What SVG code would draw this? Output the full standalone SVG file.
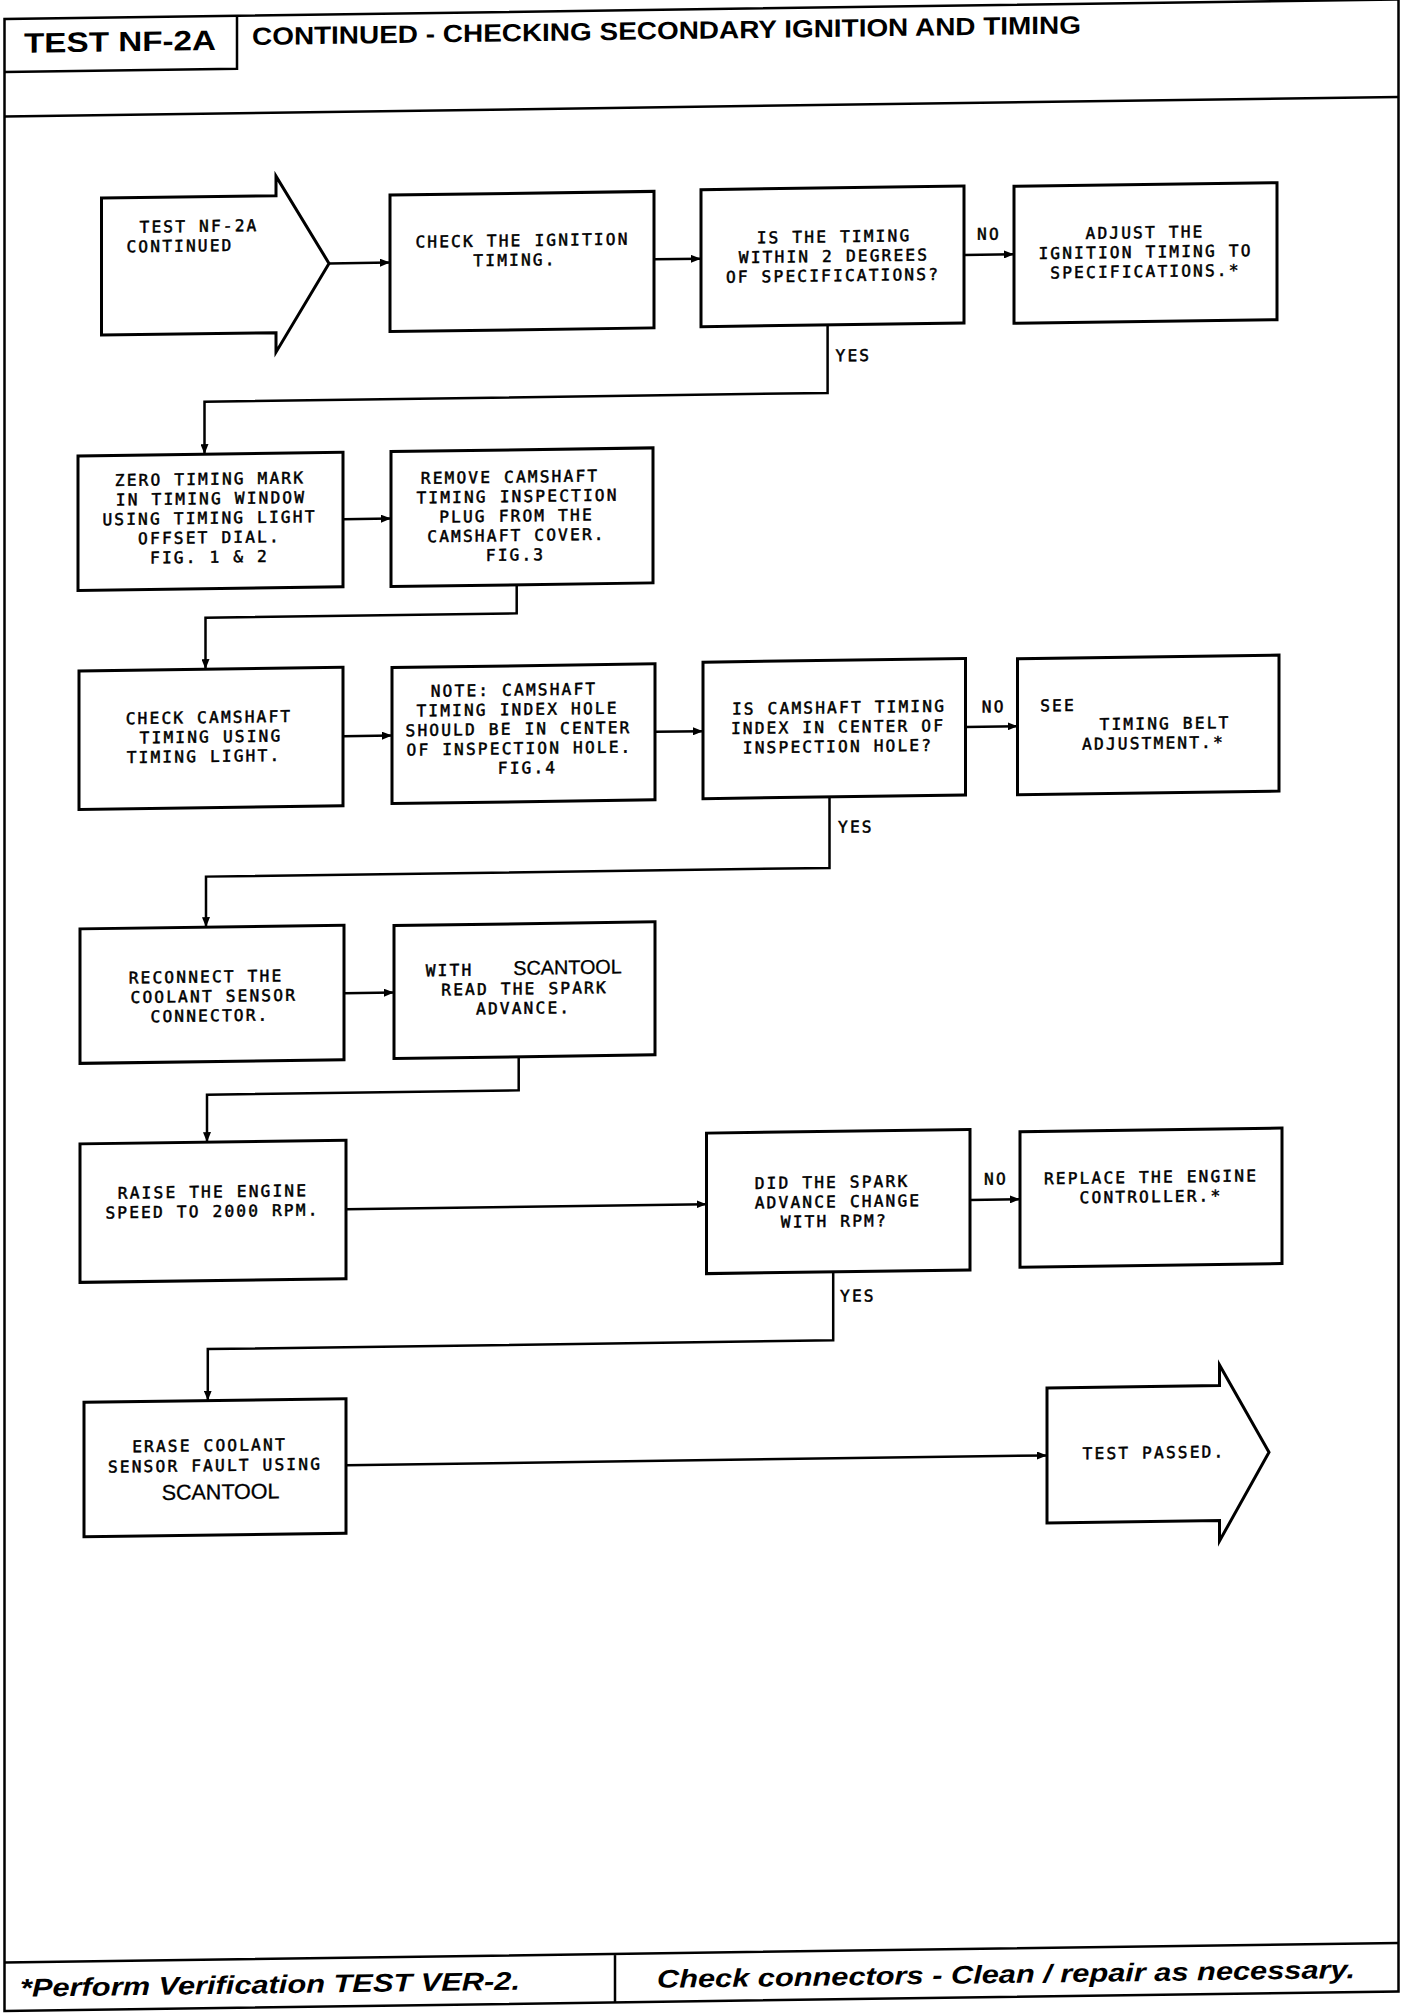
<svg xmlns="http://www.w3.org/2000/svg" width="1408" height="2016" viewBox="0 0 1408 2016">
<style>
.box{fill:none;stroke:#000;stroke-width:3}
.arw{fill:#fff;stroke:#000;stroke-width:3;stroke-linejoin:miter}
.con{fill:none;stroke:#000;stroke-width:2.5;marker-end:url(#ah)}
.ln{fill:none;stroke:#000;stroke-width:2.5}
.t{font-family:"DejaVu Sans Mono","Liberation Mono",monospace;font-size:16.2px;letter-spacing:2.15px;fill:#000;stroke:#000;stroke-width:0.5;text-anchor:middle}
.st{text-anchor:start}
.s{font-family:"Liberation Sans",Arial,sans-serif;letter-spacing:0;stroke-width:0.3}
.h{font-family:"Liberation Sans",Arial,sans-serif;font-weight:bold;fill:#000}
.f{font-family:"Liberation Sans",Arial,sans-serif;font-weight:bold;font-style:italic;font-size:25.5px;fill:#000}
</style>
<defs>
<marker id="ah" viewBox="0 0 10 8" refX="10" refY="4" markerWidth="10" markerHeight="8" markerUnits="userSpaceOnUse" orient="auto"><path d="M0,0 L10,4 L0,8 Z" fill="#000"/></marker>
</defs>
<rect x="0" y="0" width="1408" height="2016" fill="#fff"/>
<g transform="skewY(-0.8)">
<g id="frame">
<rect class="ln" x="4.5" y="19" width="1394" height="1992"/>
<path class="ln" d="M4.5,72 H237 V19"/>
<path class="ln" d="M4.5,116.5 H1398.5"/>
<path class="ln" d="M4.5,1962.5 H1398.5 M615,1962.5 V2011"/>
<text class="h" x="24" y="53" font-size="28" textLength="192" lengthAdjust="spacingAndGlyphs">TEST NF-2A</text>
<text class="h" x="252" y="48.5" font-size="25" textLength="829" lengthAdjust="spacingAndGlyphs">CONTINUED - CHECKING SECONDARY IGNITION AND TIMING</text>
<text class="f" x="20" y="1997" textLength="500" lengthAdjust="spacingAndGlyphs">*Perform Verification TEST VER-2.</text>
<text class="f" x="657" y="1997" textLength="698" lengthAdjust="spacingAndGlyphs">Check connectors - Clean / repair as necessary.</text>
</g>
<g id="connectors">
<path class="con" d="M329,268 H390"/>
<path class="con" d="M654,268.5 H701"/>
<path class="con" d="M964,268.5 H1014"/>
<path class="con" d="M827.6,337 V404.5 H204.5 V457"/>
<path class="con" d="M343,524 H391"/>
<path class="con" d="M516.7,592 V620.5 H205.5 V672"/>
<path class="con" d="M343,741 H392"/>
<path class="con" d="M655,741 H703"/>
<path class="con" d="M965.5,740.5 H1017.5"/>
<path class="con" d="M829.5,808.5 V879.5 H206 V930"/>
<path class="con" d="M344,998 H394"/>
<path class="con" d="M518.7,1064 V1097.6 H207 V1145"/>
<path class="con" d="M346,1214 H706.5"/>
<path class="con" d="M970,1213.5 H1020"/>
<path class="con" d="M833.2,1283.5 V1352 H207.8 V1403.5"/>
<path class="con" d="M346,1470 H1047"/>
<text class="t st" x="977" y="253.5">NO</text>
<text class="t st" x="835.5" y="373">YES</text>
<text class="t st" x="981.8" y="726.2">NO</text>
<text class="t st" x="838" y="844.5">YES</text>
<text class="t st" x="984" y="1198.5">NO</text>
<text class="t st" x="840" y="1313.5">YES</text>
</g>
<g id="n-start">
<path class="arw" d="M101.5,199.5 H276 V180 L329,268 L276,356 V336.5 H101.5 Z"/>
<text class="t"><tspan x="199" y="234.6">TEST NF-2A</tspan><tspan x="180" y="254.1">CONTINUED</tspan></text>
</g>
<g id="n-check-ignition">
<rect class="box" x="390" y="200.5" width="264" height="136.5"/>
<text class="t"><tspan x="522.5" y="253.4">CHECK THE IGNITION</tspan><tspan x="515" y="272.9">TIMING.</tspan></text>
</g>
<g id="n-timing-within">
<rect class="box" x="701" y="199.5" width="263" height="137"/>
<text class="t"><tspan x="834" y="253.9">IS THE TIMING</tspan><tspan x="834" y="273.4">WITHIN 2 DEGREES</tspan><tspan x="833" y="292.9">OF SPECIFICATIONS?</tspan></text>
</g>
<g id="n-adjust">
<rect class="box" x="1014" y="200.5" width="263" height="137"/>
<text class="t"><tspan x="1145" y="254.1">ADJUST THE</tspan><tspan x="1145.5" y="273.6">IGNITION TIMING TO</tspan><tspan x="1145.5" y="293.1">SPECIFICATIONS.*</tspan></text>
</g>
<g id="n-zero">
<rect class="box" x="78" y="457" width="265" height="134.5"/>
<text class="t"><tspan x="210" y="487.6">ZERO TIMING MARK</tspan><tspan x="211" y="507.1">IN TIMING WINDOW</tspan><tspan x="209.5" y="526.6">USING TIMING LIGHT</tspan><tspan x="209.5" y="546.1">OFFSET DIAL.</tspan><tspan x="209.5" y="565.6">FIG. 1 &amp; 2</tspan></text>
</g>
<g id="n-remove">
<rect class="box" x="391" y="457" width="262" height="135"/>
<text class="t"><tspan x="510" y="489.7">REMOVE CAMSHAFT</tspan><tspan x="517.5" y="509.2">TIMING INSPECTION</tspan><tspan x="516.5" y="528.7">PLUG FROM THE</tspan><tspan x="516.5" y="548.2">CAMSHAFT COVER.</tspan><tspan x="515.5" y="567.7">FIG.3</tspan></text>
</g>
<g id="n-check-cam">
<rect class="box" x="79" y="672" width="264" height="138.5"/>
<text class="t"><tspan x="209" y="725.9">CHECK CAMSHAFT</tspan><tspan x="211" y="745.4">TIMING USING</tspan><tspan x="204" y="764.9">TIMING LIGHT.</tspan></text>
</g>
<g id="n-note">
<rect class="box" x="392" y="673" width="263" height="136"/>
<text class="t"><tspan x="514" y="702.8">NOTE:  CAMSHAFT</tspan><tspan x="517.5" y="722.3">TIMING INDEX HOLE</tspan><tspan x="518.5" y="741.8">SHOULD BE IN CENTER</tspan><tspan x="519.5" y="761.3">OF INSPECTION HOLE.</tspan><tspan x="527.5" y="780.8">FIG.4</tspan></text>
</g>
<g id="n-cam-index">
<rect class="box" x="703" y="672" width="262.5" height="136.5"/>
<text class="t"><tspan x="839" y="724.8">IS CAMSHAFT TIMING</tspan><tspan x="838" y="744.3">INDEX IN CENTER OF</tspan><tspan x="838" y="763.8">INSPECTION HOLE?</tspan></text>
</g>
<g id="n-see-belt">
<rect class="box" x="1017.5" y="673" width="261.5" height="136"/>
<text class="t"><tspan x="1058" y="725.9">SEE</tspan><tspan x="1165" y="745.4">TIMING BELT</tspan><tspan x="1153.5" y="764.9">ADJUSTMENT.*</tspan></text>
</g>
<g id="n-reconnect">
<rect class="box" x="80" y="930" width="264" height="134.5"/>
<text class="t"><tspan x="206" y="985.3">RECONNECT THE</tspan><tspan x="213.8" y="1004.8">COOLANT SENSOR</tspan><tspan x="210" y="1024.3">CONNECTOR.</tspan></text>
</g>
<g id="n-scantool-read">
<rect class="box" x="394" y="931" width="261" height="133"/>
<text class="t"><tspan x="449.5" y="982.1">WITH</tspan><tspan class="s" x="567.5" y="982.1" font-size="19.8">SCANTOOL</tspan><tspan x="524.6" y="1001.6">READ THE SPARK</tspan><tspan x="523.6" y="1021.1">ADVANCE.</tspan></text>
</g>
<g id="n-raise">
<rect class="box" x="80" y="1145" width="266" height="138.5"/>
<text class="t"><tspan x="213" y="1200.4">RAISE THE ENGINE</tspan><tspan x="212.5" y="1219.9">SPEED TO 2000 RPM.</tspan></text>
</g>
<g id="n-spark-change">
<rect class="box" x="706.5" y="1143" width="263.5" height="140.5"/>
<text class="t"><tspan x="832" y="1199.5">DID THE SPARK</tspan><tspan x="838" y="1219">ADVANCE CHANGE</tspan><tspan x="834.3" y="1238.5">WITH RPM?</tspan></text>
</g>
<g id="n-replace">
<rect class="box" x="1020" y="1146" width="262" height="135.5"/>
<text class="t"><tspan x="1151" y="1198.8">REPLACE THE ENGINE</tspan><tspan x="1151" y="1218.3">CONTROLLER.*</tspan></text>
</g>
<g id="n-erase">
<rect class="box" x="84" y="1403.5" width="262" height="134.5"/>
<text class="t"><tspan x="209.5" y="1454.1">ERASE COOLANT</tspan><tspan x="215" y="1474.1">SENSOR FAULT USING</tspan><tspan class="s" x="220.6" y="1502.3" font-size="21.5">SCANTOOL</tspan></text>
</g>
<g id="n-passed">
<path class="arw" d="M1047,1402.5 H1219.5 V1382 L1269,1470 L1219.5,1558 V1537.5 H1047 Z"/>
<text class="t" x="1154" y="1474.4">TEST PASSED.</text>
</g>
</g>
</svg>
